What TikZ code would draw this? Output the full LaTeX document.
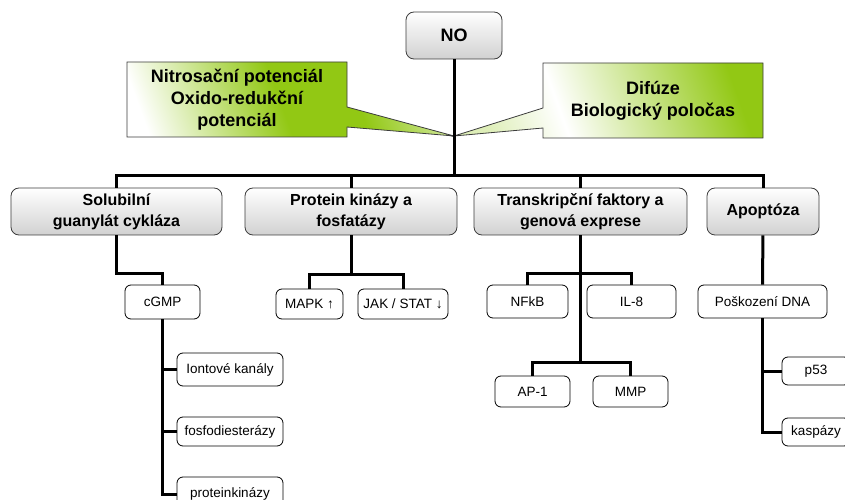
\documentclass[tikz,border=0pt]{standalone}
\usepackage{fontspec}
\setmainfont{Liberation Sans}
\usetikzlibrary{positioning,shapes.callouts}
\definecolor{zelenaNO}{RGB}{146,200,20}
\definecolor{sedaRam}{RGB}{60,60,60}
\pgfdeclarehorizontalshading{stinNitro}{100bp}{color(0bp)=(white); color(22bp)=(white);
    color(48bp)=(zelenaNO); color(62bp)=(zelenaNO); color(78bp)=(zelenaNO!40); color(100bp)=(zelenaNO!40)}
\pgfdeclarehorizontalshading{stinDifuze}{100bp}{color(0bp)=(zelenaNO!30); color(25bp)=(zelenaNO!30);
    color(40bp)=(white); color(75bp)=(zelenaNO); color(100bp)=(zelenaNO)}

\begin{document}
\begin{tikzpicture}[x=1bp, y=-1bp,
        hlavni/.style={draw=sedaRam, line width=0.8bp, rounded corners=8bp, align=center,
                       inner sep=0pt, minimum height=47bp, top color=white, bottom color=black!18,
                       font=\fontsize{16bp}{21bp}\selectfont\bfseries},
        bublina/.style={rectangle callout, draw=sedaRam, line width=0.8bp, align=center,
                        inner sep=0pt, minimum width=220bp, minimum height=75bp,
                        callout pointer width=20bp, shade, shading angle=20,
                        font=\fontsize{18bp}{21.7bp}\selectfont\bfseries},
        polozka/.style={draw=black, line width=0.8bp, rounded corners=6bp, fill=white,
                        align=center, inner sep=0pt, minimum height=32bp,
                        font=\fontsize{13.5bp}{16bp}\selectfont},
        spoj/.style={line width=3bp}
    ]
        \clip (0,0) rectangle (845,500);
        % NO a bubliny
        \coordinate (hrot) at (454,136);
        \node[bublina, shading=stinNitro, callout absolute pointer={(hrot)}] (nitro) at (237,99.5)
            {Nitrosační potenciál\\Oxido-redukční\\potenciál};
        \node[bublina, shading=stinDifuze, callout absolute pointer={(hrot)}] (difuze) at (653,100.5)
            {Difúze\\Biologický poločas};
        \node[hlavni, minimum width=96bp, font=\fontsize{18bp}{20bp}\selectfont\bfseries] (no) at (454,35.5) {NO};
        \coordinate (sbernice) at (454,176);

        % hlavni vetve
        \node[hlavni, minimum width=211bp] (sgc) at (116.5,211.5) {Solubilní\\guanylát cykláza};
        \node[hlavni, minimum width=212bp] (pk) at (351,211.5) {Protein kinázy a\\fosfatázy};
        \node[hlavni, minimum width=213bp] (tf) at (580.5,211.5) {Transkripční faktory a\\genová exprese};
        \node[hlavni, minimum width=112bp] (apo) at (763,211.5) {Apoptóza};

        % polozky
        \node[polozka, minimum width=75bp, minimum height=34bp] (cgmp) at (162.5,302) {cGMP};
        \node[polozka, minimum width=106bp, minimum height=33bp] (iont) at (230,369.5) {Iontové kanály};
        \node[polozka, minimum width=106bp, minimum height=29bp] (fosfo) at (230,431.5) {fosfodiesterázy};
        \node[polozka, minimum width=106bp, minimum height=34bp] (protk) at (230,494) {proteinkinázy};
        \node[polozka, minimum width=67bp, minimum height=30bp] (mapk) at (309.5,304) {MAPK ↑};
        \node[polozka, minimum width=90bp, minimum height=30bp] (jak) at (403,304) {JAK / STAT ↓};
        \node[polozka, minimum width=81bp, minimum height=33bp] (nfkb) at (527.5,301.5) {NFkB};
        \node[polozka, minimum width=89bp, minimum height=33bp] (il8) at (631.5,301.5) {IL-8};
        \node[polozka, minimum width=75bp, minimum height=31bp] (ap1) at (532.5,391.5) {AP-1};
        \node[polozka, minimum width=75bp, minimum height=31bp] (mmp) at (630.5,391.5) {MMP};
        \node[polozka, minimum width=129bp, minimum height=33bp] (dna) at (762.5,301.5) {Poškození DNA};
        \node[polozka, minimum width=68bp, minimum height=28bp] (p53) at (816,371) {p53};
        \node[polozka, minimum width=68bp, minimum height=28bp] (kasp) at (816,432) {kaspázy};

        % spoje
        \draw[spoj] (no) -- (sbernice);
        \draw[spoj] (sgc.north) |- (sbernice) -| (apo.north);
        \draw[spoj] (pk.north) -- (pk.north |- sbernice);
        \draw[spoj] (tf.north) -- (tf.north |- sbernice);
        \draw[spoj] (sgc.south) -- ++(0,38) -| (cgmp.north);
        \draw[spoj] (cgmp.south) |- (iont.west);
        \draw[spoj] (cgmp.south) |- (fosfo.west);
        \draw[spoj] (cgmp.south) |- (protk.west);
        \draw[spoj] (pk.south) -- ++(0,39) coordinate (pkuzel);
        \draw[spoj] (mapk.north) |- (pkuzel) -| (jak.north);
        \draw[spoj] (tf.south) -- ++(0,128);
        \draw[spoj] (nfkb.north) -- ++(0,-11) -| (il8.north);
        \draw[spoj] (ap1.north) -- ++(0,-13) -| (mmp.north);
        \draw[spoj] (apo) -- (dna);
        \draw[spoj] (dna.south) |- (p53.west);
        \draw[spoj] (dna.south) |- (kasp.west);
    \end{tikzpicture}
\end{document}
